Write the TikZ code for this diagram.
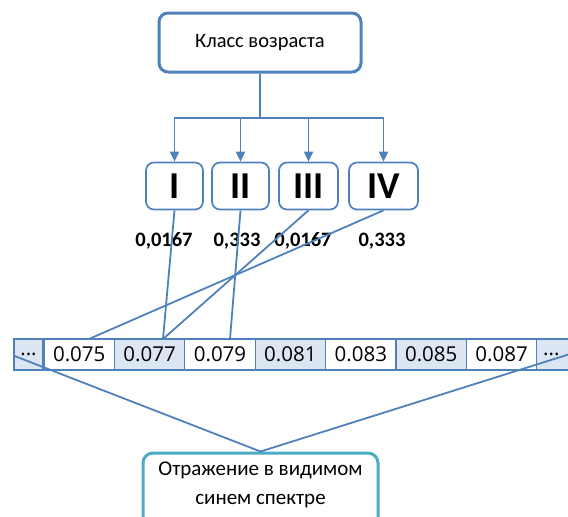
\documentclass[tikz,border=0pt]{standalone}
\usepackage{fontspec}
\setmainfont{Carlito}
\newfontfamily\cellfont{Open Sans}
\usetikzlibrary{arrows.meta,calc}
\definecolor{bl}{HTML}{4F81BD}
\definecolor{sh}{HTML}{DCE6F2}
\definecolor{tl}{HTML}{4BACC6}
\begin{document}
\begin{tikzpicture}[x=1pt,y=-1pt,
  topbox/.style={draw=bl,rounded corners=9pt,line width=3pt,fill=white,inner sep=0,minimum width=202pt,minimum height=59pt,font=\fontsize{20.5}{24}\selectfont},
  cls/.style={draw=bl,rounded corners=8pt,line width=1.7pt,fill=white,inner sep=0,minimum height=47pt,font=\bfseries\fontsize{38}{42}\selectfont},
  lab/.style={inner sep=0,font=\bfseries\fontsize{20.5}{24}\selectfont},
  cell/.style={draw=bl,line width=1.3pt,inner sep=0,minimum height=31pt,minimum width=70.4pt,font=\cellfont\fontsize{20.5}{24}\selectfont},
  dots/.style={cell,fill=sh,minimum width=29pt},
  botbox/.style={draw=tl,rounded corners=10pt,line width=3pt,fill=white,inner sep=0,minimum width=235pt,minimum height=82pt},
  bottext/.style={inner sep=0,align=center,font=\fontsize{21}{29}\selectfont},
  conn/.style={draw=bl,line width=1.8pt},
  arr/.style={conn,-{Triangle[width=9pt,length=10pt]}}]
\useasboundingbox (0,0) rectangle (568,517);
% top
\node[topbox] (top) at (260,42.5) {Класс возраста};
\coordinate (j) at (260,118);
% classes
\node[cls,minimum width=57pt] (b1) at (174.5,186) {I};
\node[cls,minimum width=57pt] (b2) at (240.5,186) {II};
\node[cls,minimum width=59pt] (b3) at (308.5,186) {III};
\node[cls,minimum width=69pt] (b4) at (383.5,186) {IV};
\draw[conn] (top.south) -- (j);
\draw[arr] (j) -| (b1.north);
\draw[arr] (j) -| (b2.north);
\draw[arr] (j) -| (b3.north);
\draw[arr] (j) -| (b4.north);
% labels
\node[lab] (l1) at (164,241) {0,0167};
\node[lab] (l2) at (237,241) {0,333};
\node[lab] (l3) at (303,241) {0,0167};
\node[lab] (l4) at (382,241) {0,333};
% strip
\node[dots] (dl) at (28.5,354.5) {...};
\node[cell,fill=white] (c1) at (79.2,354.5) {0.075};
\node[cell,fill=sh]    (c2) at (149.6,354.5) {0.077};
\node[cell,fill=white] (c3) at (220.0,354.5) {0.079};
\node[cell,fill=sh]    (c4) at (290.4,354.5) {0.081};
\node[cell,fill=white] (c5) at (360.8,354.5) {0.083};
\node[cell,fill=sh]    (c6) at (431.2,354.5) {0.085};
\node[cell,fill=white] (c7) at (501.6,354.5) {0.087};
\node[dots,minimum width=40pt,text width=34pt,align=left] (dr) at (556.8,354.5) {\,...};
% landing points
\coordinate (p1) at (89,339);
\coordinate (p2) at (163,339);
\coordinate (p3) at (230,339);
\coordinate (qr) at (570,354);
\draw[conn] (b1.south) -- (p2);
\draw[conn] (b3.south) -- (p2);
\draw[conn] (b2.south) -- (p3);
\draw[conn] (b4.south) -- (p1);
% bottom
\node[botbox] (bot) at (260.5,494) {};
\node[bottext] (bt) at (260.5,485) {Отражение в видимом\\синем спектре};
\draw[conn] ([yshift=-1pt]dl.west) -- (bot.north);
\draw[conn] (qr) -- (bot.north);
\end{tikzpicture}
\end{document}
